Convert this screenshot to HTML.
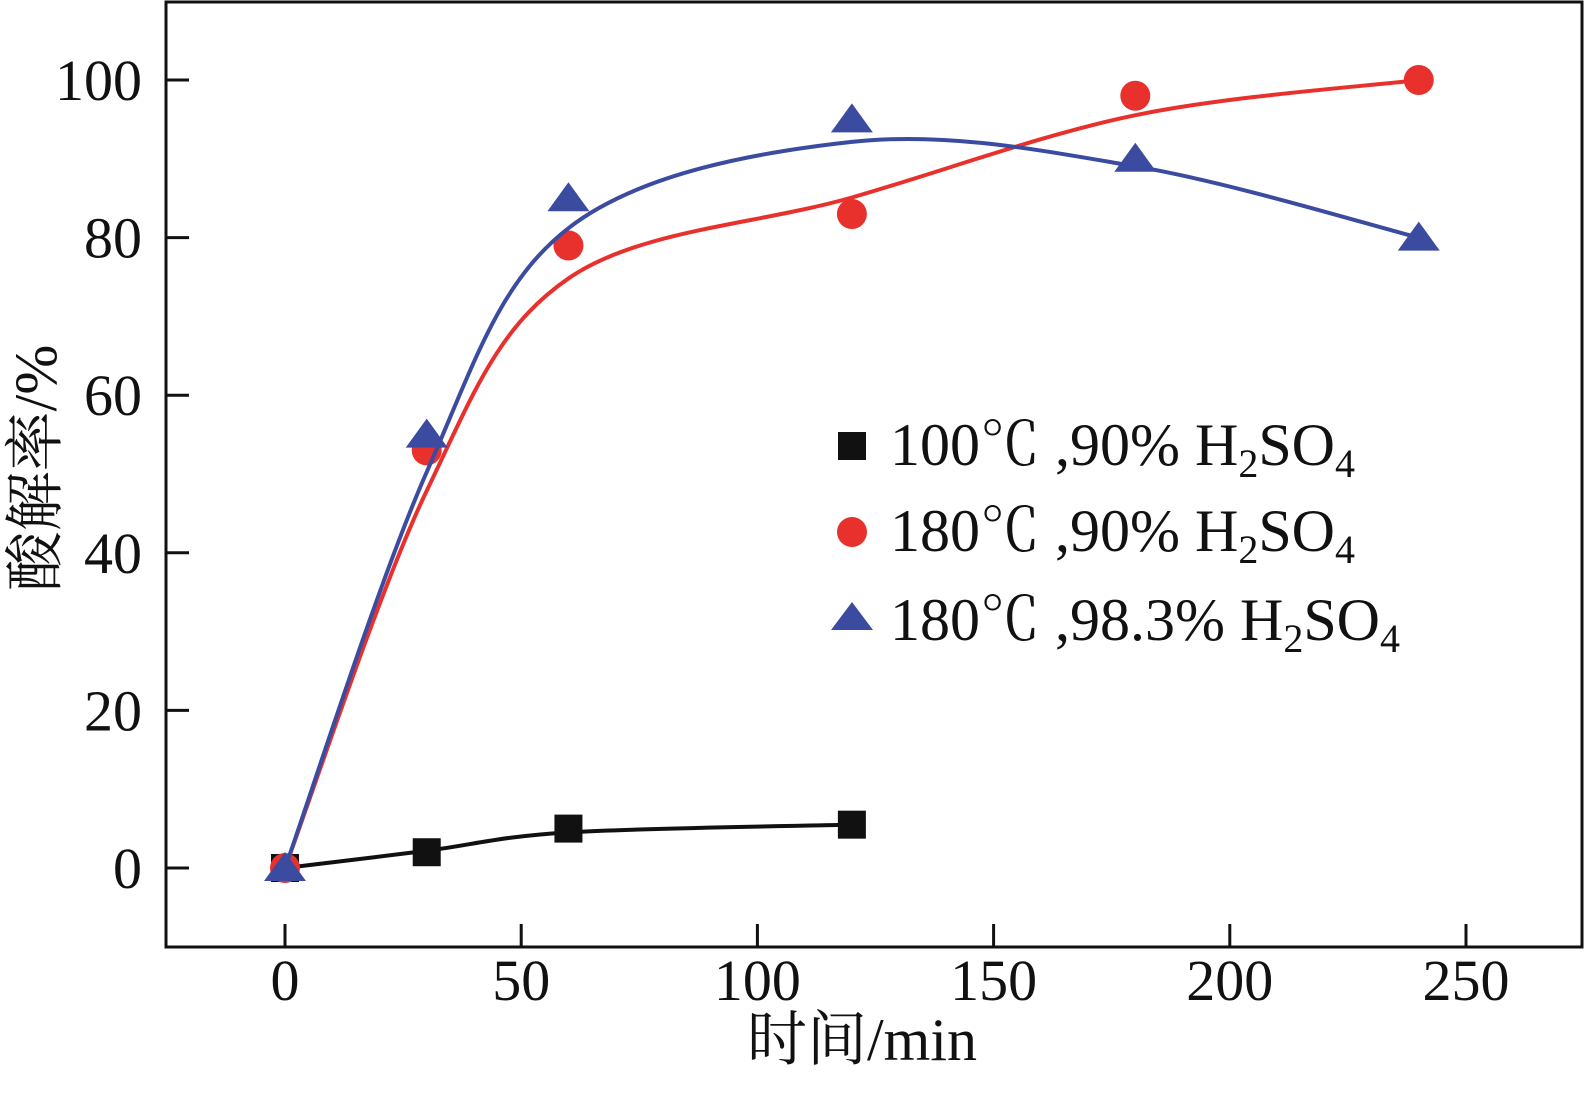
<!DOCTYPE html>
<html><head><meta charset="utf-8"><style>
body{margin:0;background:#fff;}
svg text{font-family:"Liberation Serif","Noto Serif CJK SC",serif;fill:#111;}
</style></head><body>
<svg id="chart" width="1586" height="1089" viewBox="0 0 1586 1089" xmlns="http://www.w3.org/2000/svg">
<rect x="166" y="2" width="1416" height="945" fill="none" stroke="#111" stroke-width="3"/>
<g id="axes"></g>
<g id="series"></g>
<g>
  <rect x="838" y="432" width="28" height="28" fill="#111"/>
  <text x="890" y="465" font-size="60">100℃ ,90% H<tspan font-size="40" dy="12">2</tspan><tspan dy="-12">SO</tspan><tspan font-size="40" dy="12">4</tspan></text>
  <circle cx="852" cy="532" r="15" fill="#e8302c"/>
  <text x="890" y="551" font-size="60">180℃ ,90% H<tspan font-size="40" dy="12">2</tspan><tspan dy="-12">SO</tspan><tspan font-size="40" dy="12">4</tspan></text>
  <polygon points="852,602 873,630 831,630" fill="#3b4ba0"/>
  <text x="890" y="640" font-size="60">180℃ ,98.3% H<tspan font-size="40" dy="12">2</tspan><tspan dy="-12">SO</tspan><tspan font-size="40" dy="12">4</tspan></text>
</g>
<text x="862" y="1060" font-size="60" text-anchor="middle">时间/min</text>
<text transform="translate(56,468) rotate(-90)" font-size="60" text-anchor="middle">酸解率/%</text>
</svg>
<script>
const xTicks=[0,50,100,150,200,250];
const yTicks=[0,20,40,60,80,100];
const timeBlack=[0,30,60,120];
const valBlack=[0,2,5,5.5];
const timeRed=[0,30,60,120,180,240];
const valRed=[0,53,79,83,98,100];
const timeBlue=[0,30,60,120,180,240];
const valBlue=[0,55,85,95,90,80];

const NS="http://www.w3.org/2000/svg";
const X=v=>285+(v)*4.724;
const Y=v=>868-v*7.88;
const axes=document.getElementById('axes');
const ser=document.getElementById('series');
function mk(tag,attrs,parent){const e=document.createElementNS(NS,tag);for(const k in attrs)e.setAttribute(k,attrs[k]);parent.appendChild(e);return e;}
xTicks.forEach(t=>{
  const l=mk('line',{x1:X(t),x2:X(t),y1:947,y2:924,stroke:'#111','stroke-width':3},axes);
  
  
  const tx=mk('text',{x:X(t),y:1000,'font-size':58,'text-anchor':'middle'},axes);
  tx.textContent=t;
  
  
});
yTicks.forEach(t=>{
  const l=mk('line',{x1:166,x2:189,y1:Y(t),y2:Y(t),stroke:'#111','stroke-width':3},axes);
  
  
  const tx=mk('text',{x:142,y:Y(t)+20,'font-size':58,'text-anchor':'end'},axes);
  tx.textContent=t;
  
  
});
function smooth(ys){
  return ys.map((y,i)=>(i===0||i===ys.length-1)?y:0.62*y+0.38*(ys[i-1]+ys[i+1])/2);
}
function spline(xs,ys){
  const p=xs.map((x,i)=>[X(x),Y(ys[i])]);
  let d='M'+p[0][0]+','+p[0][1];
  for(let i=0;i<p.length-1;i++){
    const p0=p[i-1]||p[i],p1=p[i],p2=p[i+1],p3=p[i+2]||p[i+1];
    const c1=[p1[0]+(p2[0]-p0[0])/6,p1[1]+(p2[1]-p0[1])/6];
    const c2=[p2[0]-(p3[0]-p1[0])/6,p2[1]-(p3[1]-p1[1])/6];
    d+=' C'+c1+' '+c2+' '+p2;
  }
  return d;
}
function drawSeries(xs,ys,color,shape,name){
  const path=mk('path',{d:spline(xs,smooth(ys)),fill:'none',stroke:color,'stroke-width':4},ser);
  
  
  xs.forEach((x,i)=>{
    const cx=X(x),cy=Y(ys[i]);let m;
    if(shape==='sq')m=mk('rect',{x:cx-14,y:cy-14,width:28,height:28,fill:color},ser);
    else if(shape==='c')m=mk('circle',{cx:cx,cy:cy,r:15,fill:color},ser);
    else m=mk('polygon',{points:`${cx},${cy-16} ${cx+21},${cy+13} ${cx-21},${cy+13}`,fill:color},ser);
    
    
  });
}
drawSeries(timeBlack,valBlack,'#111','sq','series-100c-90');
drawSeries(timeRed,valRed,'#e8302c','c','series-180c-90');
drawSeries(timeBlue,valBlue,'#3b4ba0','t','series-180c-98');
</script>
</body></html>
